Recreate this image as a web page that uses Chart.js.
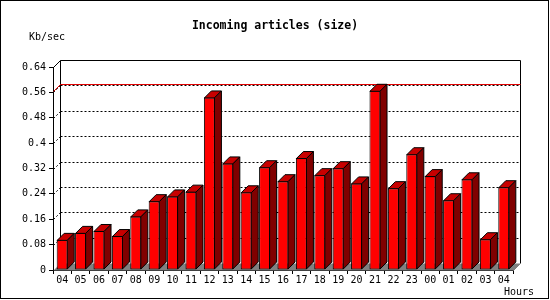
<!DOCTYPE html>
<html lang="en">
<head>
  <meta charset="UTF-8" />
  <title>Incoming articles (size)</title>
  <script src="https://cdn.jsdelivr.net/npm/chart.js"></script>
  <style>
    html, body {
      margin: 0;
      padding: 0;
      background: #fff;
    }

    .wrap {
      width: 550px;
      height: 300px;
      position: relative;
    }
  </style>
</head>
<body>

<div class="wrap"><canvas id="chart"></canvas></div>

<script>
  const hours = ['04', '05', '06', '07', '08', '09', '10', '11', '12', '13', '14', '15', '16',
                 '17', '18', '19', '20', '21', '22', '23', '00', '01', '02', '03', '04'];
  const kbPerSec = [0.095, 0.117, 0.123, 0.107, 0.169, 0.217, 0.232, 0.247, 0.544, 0.336, 0.245, 0.324, 0.280,
                    0.353, 0.299, 0.321, 0.273, 0.565, 0.258, 0.365, 0.296, 0.220, 0.286, 0.097, 0.261];
  const yTickValues = [0, 0.08, 0.16, 0.24, 0.32, 0.4, 0.48, 0.56, 0.64];
  const yTickLabels = ['0', '0.08', '0.16', '0.24', '0.32', '0.4', '0.48', '0.56', '0.64'];

  const mono = "'DejaVu Sans Mono', monospace";
  const dx = 7, dy = 7;

  // back wall, floor, dotted grid and the max line, all pushed back by the 3d depth
  const wallPlugin = {
    id: 'wall',
    beforeDatasetsDraw(chart) {
      const { ctx, chartArea: a, scales: { y } } = chart;
      const L = Math.round(a.left) + 0.5, R = Math.round(a.right) + 0.5;
      const T = Math.round(a.top) + 0.5, B = Math.round(a.bottom) + 0.5;
      ctx.save();

      ctx.fillStyle = '#808080';
      ctx.beginPath();
      ctx.moveTo(L, B);
      ctx.lineTo(L + dx, B - dy);
      ctx.lineTo(R + dx, B - dy);
      ctx.lineTo(R, B);
      ctx.closePath();
      ctx.fill();

      ctx.strokeStyle = '#000';
      ctx.lineWidth = 1;
      ctx.beginPath();
      ctx.moveTo(L, T);
      ctx.lineTo(L + dx, T - dy);
      ctx.lineTo(R + dx, T - dy);
      ctx.lineTo(R + dx, B - dy);
      ctx.moveTo(L + dx, T - dy);
      ctx.lineTo(L + dx, B - dy);
      ctx.stroke();

      ctx.strokeStyle = '#808080';
      ctx.beginPath();
      ctx.moveTo(R, B);
      ctx.lineTo(R + dx, B - dy);
      ctx.stroke();

      ctx.strokeStyle = '#000';
      ctx.setLineDash([2, 2]);
      yTickValues.slice(1, -1).forEach(v => {
        const py = Math.round(y.getPixelForValue(v)) + 0.5;
        ctx.beginPath();
        ctx.moveTo(L, py);
        ctx.lineTo(L + dx, py - dy);
        ctx.moveTo(L + dx, py - dy);
        ctx.lineTo(R + dx, py - dy);
        ctx.stroke();
      });
      ctx.setLineDash([]);

      const pm = Math.round(y.getPixelForValue(Math.max(...kbPerSec))) + 0.5;
      ctx.strokeStyle = '#e00000';
      ctx.beginPath();
      ctx.moveTo(L, pm);
      ctx.lineTo(L + dx, pm - dy);
      ctx.lineTo(R + dx, pm - dy);
      ctx.stroke();
      ctx.restore();
    },
    afterDatasetsDraw(chart) {
      const { ctx } = chart;
      const meta = chart.getDatasetMeta(0);
      ctx.save();
      ctx.strokeStyle = '#000';
      ctx.lineWidth = 1;
      meta.data.forEach(bar => {
        const { x, y, base, width } = bar.getProps(['x', 'y', 'base', 'width'], true);
        const l = x - width / 2 + 0.5, r = x + width / 2 - 0.5;
        const t = y + 0.5, b = base - 0.5;

        ctx.fillStyle = '#c80000';
        ctx.beginPath();
        ctx.moveTo(l, t);
        ctx.lineTo(l + dx, t - dy);
        ctx.lineTo(r + dx, t - dy);
        ctx.lineTo(r, t);
        ctx.closePath();
        ctx.fill();
        ctx.stroke();

        ctx.fillStyle = '#800000';
        ctx.beginPath();
        ctx.moveTo(r, t);
        ctx.lineTo(r + dx, t - dy);
        ctx.lineTo(r + dx, b - dy);
        ctx.lineTo(r, b);
        ctx.closePath();
        ctx.fill();
        ctx.stroke();
      });
      ctx.restore();
    },
    afterDraw(chart) {
      const { ctx } = chart;
      ctx.save();
      ctx.strokeStyle = '#000';
      ctx.lineWidth = 1;
      ctx.strokeRect(0.5, 0.5, 548, 298);

      ctx.fillStyle = '#000';
      ctx.textBaseline = 'middle';
      ctx.textAlign = 'center';
      ctx.font = 'bold 11.5px ' + mono;
      ctx.fillText('Incoming articles (size)', 275, 26);

      ctx.textAlign = 'left';
      ctx.font = '10px ' + mono;
      ctx.fillText('Kb/sec', 29, 37);
      ctx.fillText('Hours', 504, 292);
      ctx.restore();
    }
  };

  new Chart(document.getElementById('chart'), {
    type: 'bar',
    data: {
      labels: hours,
      datasets: [{
        data: kbPerSec,
        backgroundColor: '#ff0000',
        borderColor: '#000',
        borderWidth: 1,
        borderSkipped: false,
        barPercentage: 0.6,
        categoryPercentage: 1
      }]
    },
    options: {
      responsive: true,
      maintainAspectRatio: false,
      animation: false,
      layout: { padding: { top: 67, right: 37, left: 0, bottom: 0 } },
      plugins: {
        legend: { display: false },
        tooltip: { enabled: false },
        title: { display: false }
      },
      scales: {
        x: {
          afterFit: s => { s.height = 30; },
          grid: { drawOnChartArea: false, tickLength: 4, color: '#000', offset: true },
          border: { color: '#000' },
          ticks: {
            color: '#000',
            font: { family: mono, size: 10 },
            padding: 0,
            maxRotation: 0,
            autoSkip: false
          }
        },
        y: {
          min: 0,
          max: 0.64,
          afterFit: s => { s.width = 53; },
          afterBuildTicks: s => { s.ticks = yTickValues.map(v => ({ value: v })); },
          grid: { drawOnChartArea: false, tickLength: 4, color: '#000' },
          border: { color: '#000' },
          ticks: {
            color: '#000',
            font: { family: mono, size: 10 },
            padding: 3,
            callback: (v, i) => yTickLabels[i]
          }
        }
      }
    },
    plugins: [wallPlugin]
  });
</script>

</body>
</html>
